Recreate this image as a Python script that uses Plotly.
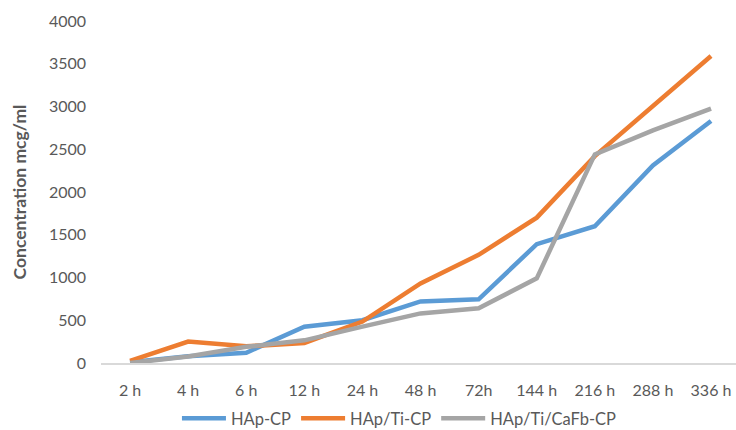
import plotly.graph_objects as go

# Sampling times
times = ["2 h", "4 h", "6 h", "12 h", "24 h", "48 h", "72h", "144 h", "216 h", "288 h", "336 h"]

# Released concentration, mcg/ml
hap_cp = [10, 80, 120, 425, 500, 720, 745, 1390, 1600, 2310, 2830]
hap_ti_cp = [25, 250, 195, 235, 485, 930, 1265, 1700, 2420, 3000, 3590]
hap_ti_cafb_cp = [0, 75, 190, 265, 425, 580, 640, 990, 2440, 2720, 2975]

series = [
    ("HAp-CP", hap_cp, "#5B9BD5"),
    ("HAp/Ti-CP", hap_ti_cp, "#ED7D31"),
    ("HAp/Ti/CaFb-CP", hap_ti_cafb_cp, "#A5A5A5"),
]

fig = go.Figure()
for name, vals, color in series:
    fig.add_trace(go.Scatter(
        x=times, y=vals, name=name, mode="lines",
        line=dict(color=color, width=4.5),
    ))

font_family = "Lato, Carlito, 'Open Sans', sans-serif"
text_color = "#595959"

fig.update_layout(
    width=736, height=430,
    margin=dict(l=101, r=0, t=21, b=67, autoexpand=False),
    paper_bgcolor="white", plot_bgcolor="white",
    font=dict(family=font_family, size=16, color=text_color),
    showlegend=True,
    legend=dict(
        orientation="h", x=0.47, xanchor="center",
        y=-0.162, yanchor="middle",
        font=dict(size=16.5, color=text_color),
        itemwidth=44, tracegroupgap=0,
    ),
    xaxis=dict(
        type="category", range=[-0.5, 10.43],
        showgrid=False, zeroline=False,
        showline=True, linecolor="#D9D9D9", linewidth=1.5,
        ticks="", ticklabelstandoff=12,
        tickfont=dict(size=16, color=text_color),
    ),
    yaxis=dict(
        range=[0, 4000], dtick=500,
        showgrid=False, zeroline=False, showline=False,
        ticks="", ticklabelstandoff=14,
        tickfont=dict(size=16, color=text_color),
        title=dict(text="<b>Concentration mcg/ml</b>", standoff=17,
                   font=dict(size=17.5, color=text_color)),
    ),
)

fig.write_html("out.html")
